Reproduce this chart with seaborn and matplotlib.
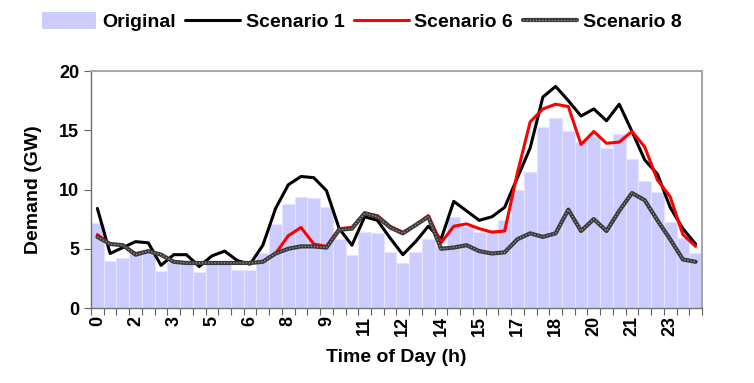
import numpy as np
import matplotlib
matplotlib.use("Agg")
import matplotlib.pyplot as plt
import seaborn as sns
from matplotlib.patches import Patch
from matplotlib.lines import Line2D

# half-hourly demand (GW), 48 slots from 0:00 to 23:30
original = [7.2, 4.0, 4.2, 4.7, 4.7, 3.1, 3.9, 3.9, 3.0, 3.8, 4.0, 3.2,
            3.2, 4.6, 7.1, 8.8, 9.4, 9.3, 8.5, 5.8, 4.5, 6.4, 6.3, 4.7,
            3.8, 4.7, 5.8, 5.2, 7.7, 6.9, 6.4, 6.6, 7.4, 10.0, 11.5, 15.3,
            16.0, 14.9, 14.0, 14.5, 13.5, 14.7, 12.6, 10.7, 9.8, 7.3, 5.9, 4.6]
scenario1 = [8.4, 4.6, 5.1, 5.6, 5.5, 3.6, 4.5, 4.5, 3.5, 4.4, 4.8, 4.0,
             3.7, 5.3, 8.4, 10.4, 11.1, 11.0, 9.9, 6.7, 5.3, 7.7, 7.4, 5.9,
             4.5, 5.6, 6.9, 5.8, 9.0, 8.2, 7.4, 7.7, 8.5, 11.0, 13.5, 17.8,
             18.7, 17.5, 16.2, 16.8, 15.8, 17.2, 14.9, 12.5, 11.3, 8.5, 6.7, 5.4]
scenario6 = [6.2, 5.4, 5.3, 4.6, 4.8, 4.5, 3.9, 3.8, 3.8, 3.8, 3.8, 3.8,
             3.8, 3.9, 4.6, 6.1, 6.8, 5.4, 5.2, 6.7, 6.8, 8.0, 7.8, 6.9,
             6.4, 7.0, 7.8, 5.5, 6.9, 7.1, 6.7, 6.4, 6.5, 11.4, 15.7, 16.8,
             17.2, 17.0, 13.8, 14.9, 13.9, 14.0, 14.9, 13.6, 10.8, 9.4, 6.2, 5.2]
scenario8 = [6.0, 5.4, 5.3, 4.5, 4.8, 4.5, 3.9, 3.8, 3.8, 3.8, 3.8, 3.8,
             3.8, 3.9, 4.6, 5.0, 5.2, 5.2, 5.1, 6.6, 6.7, 8.0, 7.7, 6.8,
             6.3, 7.0, 7.7, 5.0, 5.1, 5.3, 4.8, 4.6, 4.7, 5.8, 6.3, 6.0,
             6.3, 8.3, 6.5, 7.5, 6.5, 8.2, 9.7, 9.1, 7.4, 5.8, 4.1, 3.9]
tick_labels = ["0", "2", "3", "5", "6", "8", "9", "11", "12", "14", "15",
               "17", "18", "20", "21", "23"]

sns.set_style("white")
plt.rcParams["font.family"] = ["Liberation Sans", "DejaVu Sans"]
plt.rcParams["font.weight"] = "bold"
plt.rcParams["text.color"] = "black"
plt.rcParams["axes.labelcolor"] = "black"
plt.rcParams["xtick.color"] = "black"
plt.rcParams["ytick.color"] = "black"

slots = np.arange(len(original))

fig = plt.figure(figsize=(7.54, 3.83), dpi=100)
ax = fig.add_axes([0.1207, 0.1958, 0.8103, 0.6188])

sns.barplot(x=slots, y=original, color="#CCCCFF", saturation=1, width=1.0,
            edgecolor="#E4E4FF", linewidth=0.8, ax=ax)
sns.lineplot(x=slots, y=scenario1, color="black", lw=2.2, ax=ax)
sns.lineplot(x=slots, y=scenario6, color="#FF0000", lw=2.2, ax=ax)
sns.lineplot(x=slots, y=scenario8, color="#3a3a3a", lw=3.0, ax=ax)
sns.lineplot(x=slots, y=scenario8, color="#9a9a9a", lw=0.9,
             linestyle=(0, (1, 1.5)), ax=ax)

ax.set_xlim(-0.5, len(original) - 0.5)
ax.set_ylim(0, 20)
ax.set_yticks([0, 5, 10, 15, 20])
ax.set_xticks(np.arange(-0.5, len(original), 1))
ax.set_xticklabels([])
ax.set_xticks(slots[::3], minor=True)
ax.set_xticklabels(tick_labels, minor=True, rotation=90, fontsize=13,
                   fontweight="bold")
ax.tick_params(axis="x", which="major", length=5, width=0.8, color="#606060",
               direction="out", bottom=True)
ax.tick_params(axis="x", which="minor", length=0, pad=6)
ax.tick_params(axis="y", length=5, width=0.8, color="#606060", direction="out",
               left=True, labelsize=13)
for lab in ax.get_yticklabels():
    lab.set_fontweight("bold")

for s in ["left", "bottom"]:
    ax.spines[s].set_color("#707070")
    ax.spines[s].set_linewidth(1.0)
for s in ["top", "right"]:
    ax.spines[s].set_color("#A8A8A8")
    ax.spines[s].set_linewidth(1.5)

ax.set_xlabel("Time of Day (h)", fontsize=14, fontweight="bold", labelpad=9)
ax.set_ylabel("Demand (GW)", fontsize=14, fontweight="bold", labelpad=12)

handles = [
    Patch(facecolor="#CCCCFF", edgecolor="none"),
    Line2D([], [], color="black", lw=2.2),
    Line2D([], [], color="#FF0000", lw=2.2),
    (Line2D([], [], color="#3a3a3a", lw=3.0),
     Line2D([], [], color="#9a9a9a", lw=0.9, linestyle=(0, (1, 1.5)))),
]
fig.legend(handles, ["Original", "Scenario 1", "Scenario 6", "Scenario 8"],
           loc="center", bbox_to_anchor=(0.48, 0.943), ncol=4, frameon=False,
           prop={"size": 14, "weight": "bold"}, handlelength=2.8,
           handleheight=0.9, handletextpad=0.3, columnspacing=0.5,
           borderaxespad=0)

fig.savefig("out.png", dpi=100)
